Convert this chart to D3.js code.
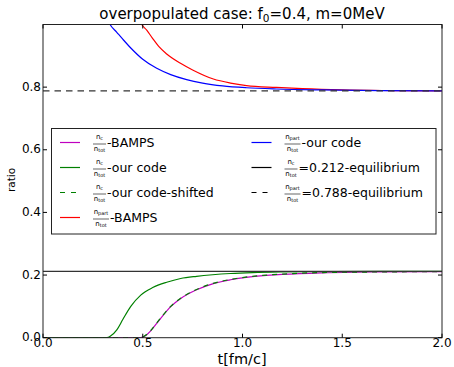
<!DOCTYPE html>
<html>
<head>
<meta charset="utf-8">
<script src="https://cdn.jsdelivr.net/npm/d3@7"></script>
<style>
  body { margin: 0; background: #fff; }
  svg text { font-family: 'DejaVu Sans', sans-serif; fill: #000; }
</style>
</head>
<body>
<div id="chart-area"></div>
<script>
// ---- data ----
const tMagenta = [0, 0.49, 0.51, 0.54, 0.57, 0.60, 0.64, 0.69, 0.77, 0.85, 0.94, 1.05, 1.2, 1.4, 1.7, 2.0];
const vMagenta = [0, 0, 0.005, 0.022, 0.046, 0.07, 0.099, 0.125, 0.153, 0.172, 0.185, 0.195, 0.202, 0.207, 0.210, 0.211];

const tGreen = [0, 0.32, 0.34, 0.37, 0.40, 0.44, 0.49, 0.55, 0.62, 0.69, 0.77, 0.85, 0.94, 1.05, 1.2, 1.4, 1.7, 2.0];
const vGreen = [0, 0, 0.006, 0.025, 0.058, 0.1, 0.136, 0.16, 0.177, 0.189, 0.196, 0.201, 0.205, 0.208, 0.210, 0.211, 0.212, 0.212];

const tShifted = [0, 0.49, 0.51, 0.54, 0.57, 0.60, 0.64, 0.69, 0.77, 0.85, 0.94, 1.05, 1.2, 1.4, 1.7, 2.0];
const vShifted = [0, 0, 0.006, 0.023, 0.047, 0.071, 0.1, 0.126, 0.154, 0.173, 0.186, 0.196, 0.203, 0.208, 0.210, 0.211];

const tRed = [0.48, 0.495, 0.52, 0.55, 0.58, 0.62, 0.687, 0.75, 0.854, 0.94, 1.02, 1.17, 1.3, 1.5, 1.75, 2.0];
const vRed = [1.02, 1.0, 0.982, 0.955, 0.93, 0.906, 0.877, 0.855, 0.826, 0.813, 0.805, 0.799, 0.795, 0.791, 0.789, 0.788];

const tBlue = [0.32, 0.336, 0.37, 0.40, 0.44, 0.50, 0.57, 0.64, 0.72, 0.80, 0.90, 1.02, 1.17, 1.4, 1.7, 2.0];
const vBlue = [1.02, 1.0, 0.975, 0.953, 0.925, 0.889, 0.86, 0.84, 0.824, 0.813, 0.804, 0.798, 0.794, 0.791, 0.789, 0.788];

const eqC = 0.212;
const eqPart = 0.788;

const xTicks = [0, 0.5, 1.0, 1.5, 2.0];
const yTicks = [0, 0.2, 0.4, 0.6, 0.8];

let width = 454;
let height = 367;
let margin = { left: 43, right: 12, top: 24.5, bottom: 29.3 };
let plotW = width - margin.left - margin.right;
let plotH = height - margin.top - margin.bottom;

let svg = d3.select('#chart-area').append('svg').attr('width', width).attr('height', height);

let x = d3.scaleLinear().domain([0, 2]).range([margin.left, margin.left + plotW]);
let y = d3.scaleLinear().domain([0, 1]).range([margin.top + plotH, margin.top]);

svg.append('clipPath').attr('id', 'clip')
  .append('rect').attr('x', margin.left).attr('y', margin.top).attr('width', plotW).attr('height', plotH);

let plot = svg.append('g').attr('clip-path', 'url(#clip)');
let line = d3.line().x((d) => x(d[0])).y((d) => y(d[1])).curve(d3.curveMonotoneX);
let zip = (ts, vs) => ts.map((t, i) => [t, vs[i]]);

let series = [
  { data: zip(tMagenta, vMagenta), color: '#bf00bf', dash: null },
  { data: zip(tGreen, vGreen), color: '#008000', dash: null },
  { data: zip(tShifted, vShifted), color: '#008000', dash: '5,5' },
  { data: zip(tRed, vRed), color: '#ff0000', dash: null },
  { data: zip(tBlue, vBlue), color: '#0000ff', dash: null },
  { data: [[0, eqC], [2, eqC]], color: '#333', dash: null },
  { data: [[0, eqPart], [2, eqPart]], color: '#333', dash: '6.5,5' },
];

series.forEach((s) => {
  plot.append('path')
    .attr('d', line(s.data))
    .attr('fill', 'none')
    .attr('stroke', s.color)
    .attr('stroke-width', 1.2)
    .attr('stroke-dasharray', s.dash);
});

// frame
svg.append('rect')
  .attr('x', margin.left).attr('y', margin.top).attr('width', plotW).attr('height', plotH)
  .attr('fill', 'none').attr('stroke', '#222').attr('stroke-width', 1);

// ticks inside on all sides
let tickLen = 4;
let tg = svg.append('g').attr('stroke', '#000').attr('stroke-width', 1);
xTicks.forEach((t) => {
  tg.append('line').attr('x1', x(t)).attr('x2', x(t)).attr('y1', y(0)).attr('y2', y(0) - tickLen);
  tg.append('line').attr('x1', x(t)).attr('x2', x(t)).attr('y1', y(1)).attr('y2', y(1) + tickLen);
  svg.append('text').attr('x', x(t)).attr('y', y(0) + 9.5).attr('text-anchor', 'middle')
    .style('font-size', '12px').text(t.toFixed(1));
});
yTicks.forEach((t) => {
  tg.append('line').attr('x1', x(0)).attr('x2', x(0) + tickLen).attr('y1', y(t)).attr('y2', y(t));
  tg.append('line').attr('x1', x(2)).attr('x2', x(2) - tickLen).attr('y1', y(t)).attr('y2', y(t));
  svg.append('text').attr('x', x(0) - 2).attr('y', y(t) + 3.5).attr('text-anchor', 'end')
    .style('font-size', '12px').text(t.toFixed(1));
});

// title
let title = svg.append('text').attr('x', 242).attr('y', 19).attr('text-anchor', 'middle').style('font-size', '15px');
title.append('tspan').text('overpopulated case: f');
title.append('tspan').attr('dy', 3).style('font-size', '10.5px').text('0');
title.append('tspan').attr('dy', -3).text('=0.4, m=0MeV');

svg.append('text').attr('x', 242).attr('y', 363.5).attr('text-anchor', 'middle').style('font-size', '14.5px').text('t[fm/c]');
svg.append('text').attr('transform', 'translate(15,180) rotate(-90)').attr('text-anchor', 'middle')
  .style('font-size', '10.5px').text('ratio');

// legend
let legendItems = [
  { num: 'c', label: '-BAMPS', color: '#bf00bf', dash: null },
  { num: 'c', label: '-our code', color: '#008000', dash: null },
  { num: 'c', label: '-our code-shifted', color: '#008000', dash: '5,6' },
  { num: 'part', label: '-BAMPS', color: '#ff0000', dash: null },
  { num: 'part', label: '-our code', color: '#0000ff', dash: null },
  { num: 'c', label: '=0.212-equilibrium', color: '#000', dash: null },
  { num: 'part', label: '=0.788-equilibrium', color: '#000', dash: '5,6' },
];

svg.append('rect').attr('x', 51.5).attr('y', 128.5).attr('width', 384.5).attr('height', 105.5)
  .attr('fill', '#fff').attr('stroke', '#222').attr('stroke-width', 1);

let colX = [60, 251.5];
let rowY = 142.5;
let rowH = 25;
legendItems.forEach((d, i) => {
  let col = i < 4 ? 0 : 1;
  let row = i < 4 ? i : i - 4;
  let g = svg.append('g').attr('transform', `translate(${colX[col]},${rowY + row * rowH})`);
  g.append('line').attr('x1', 0).attr('x2', 20).attr('y1', 0).attr('y2', 0)
    .attr('stroke', d.color).attr('stroke-width', 1.2).attr('stroke-dasharray', d.dash);
  let fx = 33;
  let fw = d.num == 'part' ? 16 : 13;
  let num = g.append('text').attr('x', fx + fw / 2).attr('y', -4).attr('text-anchor', 'middle').style('font-size', '7px');
  num.append('tspan').text('n');
  num.append('tspan').attr('dy', 1).style('font-size', '5px').text(d.num);
  g.append('line').attr('x1', fx).attr('x2', fx + fw).attr('y1', 1.5).attr('y2', 1.5).attr('stroke', '#000').attr('stroke-width', 0.6);
  let den = g.append('text').attr('x', fx + fw / 2).attr('y', 8).attr('text-anchor', 'middle').style('font-size', '7px');
  den.append('tspan').text('n');
  den.append('tspan').attr('dy', 1).style('font-size', '5px').text('tot');
  g.append('text').attr('x', fx + fw + 1).attr('y', 4.5).style('font-size', '12.5px').text(d.label);
});
</script>
</body>
</html>
